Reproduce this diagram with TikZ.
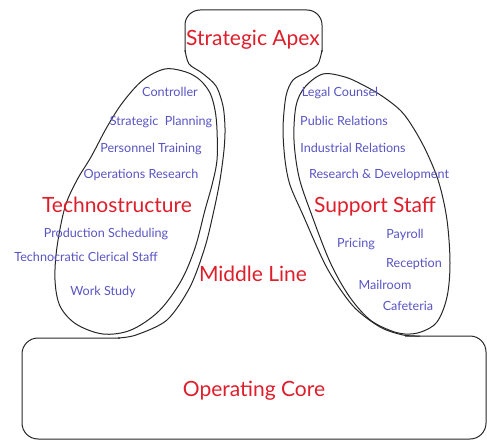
\documentclass[tikz,border=0pt]{standalone}
\usepackage{fontspec}
\setmainfont{Lato}
\definecolor{partred}{RGB}{222,30,42}
\definecolor{unitblue}{RGB}{88,84,196}

\begin{document}
\begin{tikzpicture}[x=1pt,y=-1pt,
		outline/.style={black!85,line width=1pt,line join=round},
		part/.style={partred,anchor=base,font=\fontsize{21}{25}\selectfont,inner sep=0pt},
		unit/.style={unitblue,anchor=base,font=\fontsize{12.6}{15}\selectfont,inner sep=0pt}]
		\useasboundingbox (0,0) rectangle (487,441);
		
		% operating core
		\draw[outline,rounded corners=16] (120,338)--(22,338)--(22,439)--(486,439)--(486,336)--(405,336);
		% middle line, left side up to the apex
		\draw[outline] plot[smooth,tension=.5] coordinates {(118,338) (136,335) (167,320) (190,287) (205,247) (214,210) (220,180) (224,150) (225,128) (223,106) (216,86) (202,73) (189,64) (185,50)};
		% strategic apex
		\draw[outline,rounded corners=15] (185,52)--(185,10)--(322,10)--(322,52);
		% middle line, right side down to the core
		\draw[outline] plot[smooth,tension=.5] coordinates {(322,50) (318,64) (307,72) (293,80) (286,96) (283,128) (285,160) (290,185) (303,215) (327,268) (353,306) (380,327) (403,335) (420,336)};
		
		% technostructure
		\draw[outline] plot[smooth cycle,tension=.55] coordinates {(165,69) (186,72) (200,80) (210,93) (215,110) (217,130) (217,160) (212,185) (205,210) (195,248) (181,281) (159,311) (131,330) (103,334) (76,324) (60,306) (55,280) (57,247) (65,207) (77,180) (91,157) (107,127) (123,102) (143,80)};
		% support staff
		\draw[outline] plot[smooth cycle,tension=.55] coordinates {(323,74) (345,77) (363,85) (382,96) (401,111) (414,129) (427,153) (439,183) (447,220) (450,263) (447,297) (437,322) (421,332) (405,334) (389,330) (369,319) (349,296) (330,262) (311,213) (299,177) (294,140) (296,106) (305,87)};
		
		\node[part] (apex) at (253,46) {Strategic Apex};
		\node[part] (techno) at (117,212) {Technostructure};
		\node[part] (support) at (375,212) {Support Staff};
		\node[part] (middle) at (253,281) {Middle Line};
		\node[part] (core) at (254,396) {Operating Core};
		
		\foreach \nom/\x/\y/\txt in {ctrl/170/97/Controller, plan/161/126/{Strategic\ \ Planning}, train/151/153/Personnel Training, opres/141/178/Operations Research, prod/106/237/Production Scheduling, clerk/86/261/Technocratic Clerical Staff, work/103/295/Work Study}{
			\node[unit] (\nom) at (\x,\y) {\txt}; }%technostructure
		\foreach \nom/\x/\y/\txt in {legal/340/97/Legal Counsel, pubrel/344/126/Public Relations, indrel/353/152/Industrial Relations, rnd/379/178/Research \& Development, pricing/356/247/Pricing, payroll/405/238/Payroll, recep/414/267/Reception, mail/385/289/Mailroom, cafe/408/310/Cafeteria}{
			\node[unit] (\nom) at (\x,\y) {\txt}; }%support staff
	\end{tikzpicture}
\end{document}
